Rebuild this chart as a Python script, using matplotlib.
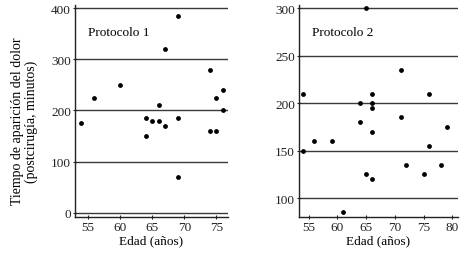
import matplotlib
matplotlib.use("Agg")
import matplotlib.pyplot as plt

plt.rcParams['font.family'] = ['Liberation Serif', 'DejaVu Serif']

# Protocolo 1
edad1 = [54, 56, 60, 64, 64, 65, 66, 66, 67, 67, 69, 69, 69, 74, 74, 75, 75, 76, 76]
tiempo1 = [175, 225, 250, 150, 185, 180, 180, 210, 320, 170, 385, 185, 70, 280, 160, 160, 225, 240, 200]

# Protocolo 2
edad2 = [54, 54, 56, 59, 61, 64, 64, 65, 65, 66, 66, 66, 66, 66, 71, 71, 72, 75, 76, 76, 78, 79]
tiempo2 = [210, 150, 160, 160, 85, 200, 180, 300, 125, 210, 200, 195, 170, 120, 235, 185, 135, 125, 210, 155, 135, 175]

xticks1 = [55, 60, 65, 70, 75]
yticks1 = [0, 100, 200, 300, 400]
xticks2 = [55, 60, 65, 70, 75, 80]
yticks2 = [100, 150, 200, 250, 300]

fig = plt.figure(figsize=(4.62, 2.55), dpi=100)
W, H = 462, 255
ax1 = fig.add_axes([75 / W, (H - 218) / H, 153 / W, 212 / H])
ax2 = fig.add_axes([299 / W, (H - 218) / H, 159 / W, 212 / H])

fs = 9.5

def style(ax, xt, yt, xlim, ylim):
    ax.set_xlim(*xlim)
    ax.set_ylim(*ylim)
    ax.set_xticks(xt)
    ax.set_yticks(yt)
    for y in yt:
        ax.axhline(y, color='#3a3a3a', lw=1.0, zorder=1)
    for s in ['top', 'right']:
        ax.spines[s].set_visible(False)
    for s in ['left', 'bottom']:
        ax.spines[s].set_linewidth(1.0)
        ax.spines[s].set_color('#222222')
    ax.tick_params(axis='both', labelsize=fs, length=3, width=0.8, direction='inout', colors='#222222', pad=1.5)
    ax.set_xlabel('Edad (años)', fontsize=fs, labelpad=1)

style(ax1, xticks1, yticks1, (53.0, 76.8), (-8, 406))
style(ax2, xticks2, yticks2, (53.3, 81.0), (80, 303.5))

ax1.scatter(edad1, tiempo1, s=12, color='black', zorder=3, linewidths=0)
ax2.scatter(edad2, tiempo2, s=12, color='black', zorder=3, linewidths=0)

ax1.text(55, 353, 'Protocolo 1', fontsize=fs, va='center', ha='left')
ax2.text(55.5, 275, 'Protocolo 2', fontsize=fs, va='center', ha='left')

ax1.set_ylabel('Tiempo de aparición del dolor\n(postcirugía, minutos)', fontsize=10, linespacing=1.0)
ax1.yaxis.set_label_coords(-0.245, 0.455)

fig.savefig('out.png', dpi=100)
